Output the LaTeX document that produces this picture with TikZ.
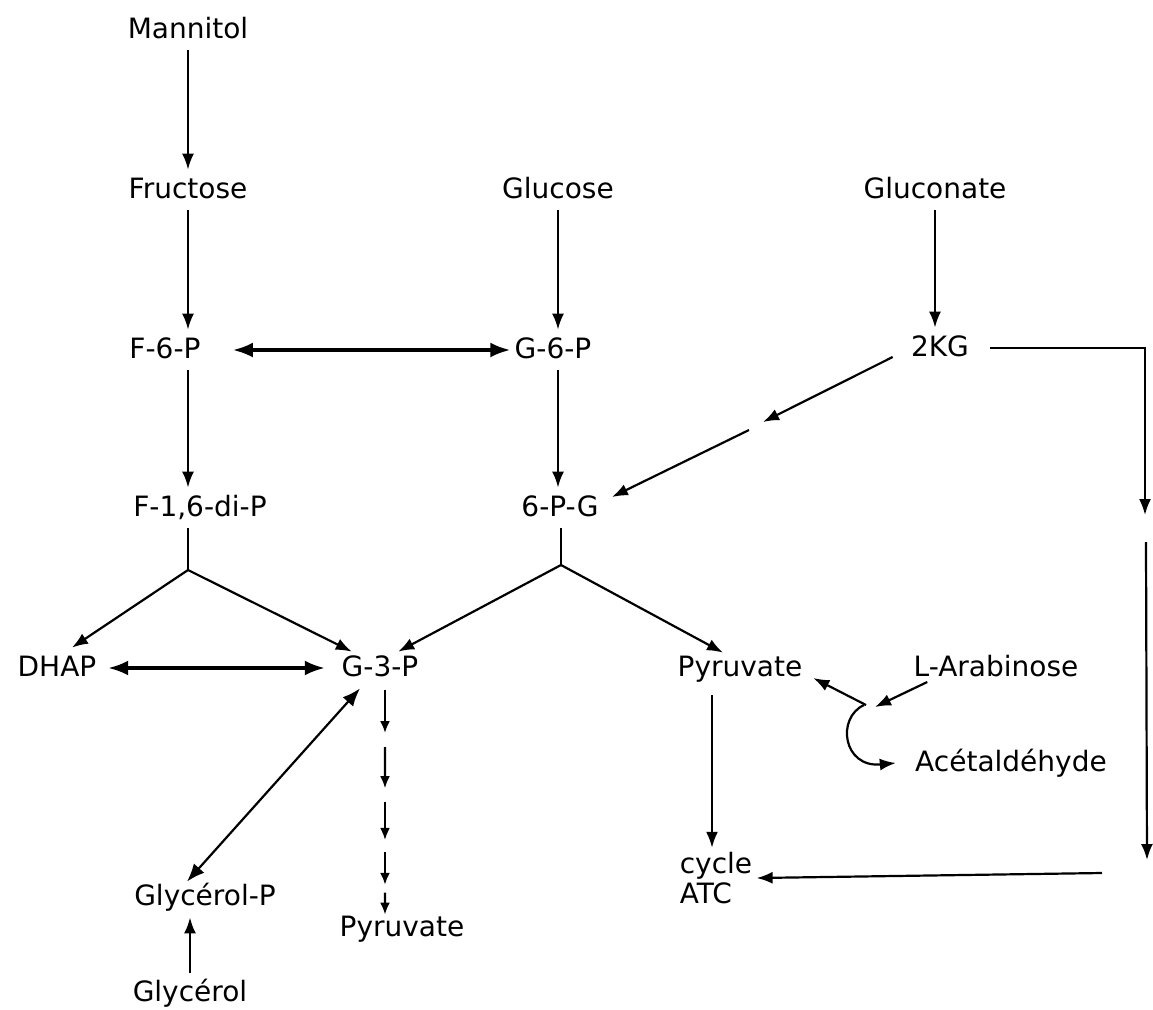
\documentclass[tikz,border=0pt]{standalone}
\usepackage{fontspec}
\setmainfont{DejaVu Sans}
\usetikzlibrary{arrows.meta,calc}
\begin{document}
\begin{tikzpicture}[x=0.5pt,y=-0.5pt,
  lab/.style={font=\fontsize{14}{15}\selectfont, inner xsep=2pt, inner ysep=2pt},
  met/.style={lab, text height=12pt, text depth=4pt},
  arr/.style={line width=1.1pt, -{Latex[length=8pt,width=6pt]}},
  arrsmall/.style={line width=1.1pt, -{Latex[length=6pt,width=5pt]}},
  bi/.style={line width=1.1pt, {Latex[length=9pt,width=7pt]}-{Latex[length=9pt,width=7pt]}},
  biarr/.style={line width=1.6pt, {Latex[length=10pt,width=7.5pt]}-{Latex[length=10pt,width=7.5pt]}},
  plain/.style={line width=1.1pt}]
\useasboundingbox (0,0) rectangle (1153,1009);

% metabolites
\node[met] (mannitol)  at (188,30)   {Mannitol};
\node[met] (fructose)  at (188,190)  {Fructose};
\node[met] (glucose)   at (558,190)  {Glucose};
\node[met] (gluconate) at (935,190)  {Gluconate};
\node[met] (f6p)       at (165,350)  {F-6-P};
\node[met] (g6p)       at (553,350)  {G-6-P};
\node[met] (kg)        at (940,348)  {2KG};
\node[met] (fdp)       at (200,508)  {F-1,6-di-P};
\node[met] (ppg)       at (560,508)  {6-P-G};
\node[met] (dhap)      at (57,668)   {DHAP};
\node[met] (g3p)       at (380,668)  {G-3-P};
\node[met] (pyr)       at (740,668)  {Pyruvate};
\node[met] (arab)      at (996,668)  {L-Arabinose};
\node[met] (acet)      at (1011,763) {Acétaldéhyde};
\node[lab, align=left] (atc) at (716,878) {cycle\\ATC};
\node[met] (glyp)      at (205,897)  {Glycérol-P};
\node[met] (pyr2)      at (402,928)  {Pyruvate};
\node[met] (glycerol)  at (190,993)  {Glycérol};

% upper vertical steps
\draw[arr] (mannitol) -- (fructose);
\draw[arr] (fructose.south) -- (fructose.south |- f6p.north);
\draw[arr] (f6p.south -| fructose) -- (fdp.north -| fructose);
\draw[arr] (glucose.south) -- (glucose.south |- g6p.north);
\draw[arr] (g6p.south -| glucose) -- (ppg.north -| glucose);
\draw[arr] (gluconate.south) -- (gluconate.south |- kg.north);
\draw[biarr] ([xshift=14pt]f6p.east) -- (g6p.west);

% 2KG branches
\coordinate (kgmid1) at (763,422);
\coordinate (kgmid2) at (749,430);
\draw[arr] ([xshift=-7pt,yshift=-4.5pt]kg.west) -- (kgmid1);
\draw[arr] (kgmid2) -- ([xshift=4.5pt,yshift=5.5pt]ppg.east);
\coordinate (kgbreak) at (1145,515);
\coordinate (rtop) at (1146,542);
\coordinate (rbot) at (1147,860);
\coordinate (atcin) at (1102,873);
\draw[arr] ([xshift=8.5pt]kg.east) -| (kgbreak);
\draw[arr] (rtop) -- (rbot);
\draw[arr] (atcin) -- (atc.east);

% splitting of F-1,6-di-P and 6-P-G
\coordinate (fj) at (188,570);
\coordinate (gj) at (561,565);
\draw[plain] (fdp.south -| fj) -- (fj);
\draw[arr] (fj) -- ([xshift=7.5pt]dhap.north);
\draw[arr] (fj) -- ([xshift=7.25pt,yshift=-2pt]g3p.north west);
\draw[plain] (ppg.south -| gj) -- (gj);
\draw[arr] (gj) -- ([xshift=-12.25pt,yshift=-2pt]g3p.north east);
\draw[arr] (gj) -- ([xshift=-8.5pt,yshift=-2.5pt]pyr.north);

% triose phosphates and glycerol
\draw[biarr] ([xshift=3.75pt]dhap.east) -- ([xshift=-6.25pt]g3p.west);
\draw[bi] ([xshift=-10pt]g3p.south) -- ([xshift=-9pt,yshift=-2.5pt]glyp.north);
\draw[arr] (glycerol.north) -- (glycerol.north |- glyp.south);

% lower glycolysis, several steps
\coordinate (d0) at ([xshift=2.5pt,yshift=-1pt]g3p.south);
\path (d0 |- pyr2.north) ++(0,7) coordinate (d5);
\foreach \a/\b in {0/0.19, 0.253/0.436, 0.498/0.667, 0.72/0.867, 0.902/1}
  \draw[arrsmall] ($(d0)!\a!(d5)$) -- ($(d0)!\b!(d5)$);

% pyruvate to the TCA cycle
\path ([xshift=-14pt,yshift=-3.5pt]pyr.south) coordinate (pyrout);
\draw[arr] (pyrout) -- (pyrout |- atc.north);

% L-arabinose
\coordinate (arabj) at (866,705);
\draw[arr] ([xshift=9pt,yshift=-7pt]arab.west) -- ([xshift=4.5pt,yshift=-1pt]arabj);
\draw[arr] (arabj) -- ([xshift=3.3pt,yshift=-5pt]pyr.east);
\draw[arr] ([xshift=-1pt]arabj) .. controls (836,718) and (843,768) .. ([xshift=-7.5pt]acet.west);
\end{tikzpicture}
\end{document}
